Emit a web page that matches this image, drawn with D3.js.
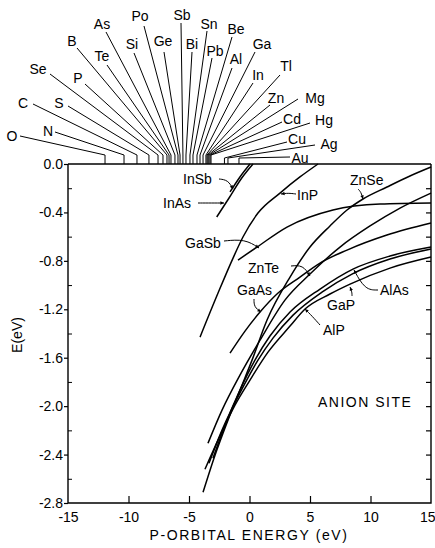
<!DOCTYPE html>
<html><head><meta charset="utf-8">
<script src="https://cdn.jsdelivr.net/npm/d3@7"></script>
<style>
body{margin:0;background:#fff;}
text{font-family:"Liberation Sans","DejaVu Sans",Arial,sans-serif;fill:#000;}
</style></head>
<body><svg id="c" width="435" height="548"></svg>
<script>
// ---------- data ----------
const xTicks = [-15, -10, -5, 0, 5, 10, 15];
const yTicks = [0.0, -0.4, -0.8, -1.2, -1.6, -2.0, -2.4, -2.8];
const yMinorTicks = [-0.2, -0.6, -1.0, -1.4, -1.8, -2.2, -2.6];

const elements = ["O","N","C","S","Se","P","B","Te","As","Si","Po","Ge","Sb","Bi","Sn","Pb","Be","Al","Ga","In","Tl","Zn","Mg","Cd","Hg","Cu","Ag","Au"];
const elementEnergy = [-11.94,-10.37,-9.30,-8.31,-7.56,-7.15,-6.82,-6.65,-6.49,-6.16,-5.91,-5.74,-5.50,-5.25,-4.92,-4.67,-4.34,-4.09,-3.84,-3.60,-3.51,-3.43,-3.35,-3.26,-3.18,-2.07,-1.78,-0.87];

const hosts = ["InSb","InAs","InP","GaSb","GaAs","ZnTe","ZnSe","AlAs","GaP","AlP"];
const InSb = [[-1.61,-0.231],[-0.79,-0.107],[0.04,0]];
const InAs = [[-2.71,-0.438],[-1.69,-0.281],[-0.64,-0.116],[0.29,0]];
const InP  = [[-4.09,-1.43],[-2.60,-1.066],[-1.36,-0.777],[-0.54,-0.603],[0.70,-0.405],[2.52,-0.240],[4.17,-0.107],[5.66,0]];
const GaSb = [[-0.95,-0.793],[0.62,-0.686],[3.10,-0.521],[6.90,-0.38],[10.79,-0.331],[15,-0.322]];
const GaAs = [[-1.61,-1.562],[-0.37,-1.380],[0.87,-1.223],[2.36,-1.066],[4.17,-0.934],[5.83,-0.818],[8.06,-0.711],[11.36,-0.587],[15,-0.488]];
const ZnTe = [[-3.43,-2.306],[-2.27,-2.033],[-0.79,-1.744],[0.87,-1.455],[2.93,-1.124],[5.0,-0.909],[7.48,-0.686],[9.96,-0.512],[12.44,-0.364],[15,-0.240]];
const ZnSe = [[-3.84,-2.711],[-2.85,-2.405],[-1.78,-2.116],[-0.79,-1.868],[0.21,-1.620],[1.45,-1.289],[3.35,-0.934],[5.0,-0.686],[6.65,-0.512],[8.06,-0.380],[9.38,-0.289],[11.36,-0.190],[13.26,-0.099],[15,-0.025]];
const AlAs = [[-3.02,-2.430],[-2.02,-2.157],[-0.79,-1.868],[0.45,-1.620],[1.69,-1.421],[3.35,-1.223],[5.83,-1.033],[8.55,-0.868],[11.61,-0.760],[15,-0.686]];
const GaP  = [[-3.35,-2.471],[-2.27,-2.198],[-0.54,-1.843],[0.70,-1.620],[1.94,-1.438],[3.60,-1.248],[5.99,-1.058],[8.47,-0.909],[11.61,-0.785],[15,-0.702]];
const AlP  = [[-3.68,-2.521],[-2.60,-2.281],[-1.20,-1.992],[0.04,-1.785],[1.53,-1.554],[3.35,-1.339],[4.59,-1.198],[6.65,-1.074],[8.31,-0.992],[11.61,-0.860],[15,-0.769]];
const hostData = [InSb,InAs,InP,GaSb,GaAs,ZnTe,ZnSe,AlAs,GaP,AlP];

// ---------- layout (pixel annotations) ----------
const elemLabelPos = {O:[12,136],N:[48,131],C:[23,103],S:[59,103],Se:[38,69],P:[78,78],B:[72,41],Te:[102,56],As:[102,24],Si:[132,44],Po:[140,16],Ge:[163,41],Sb:[182,15],Bi:[192,44],Sn:[209,24],Pb:[215,51],Be:[236,29],Al:[236,59],Ga:[262,44],In:[258,75],Tl:[286,66],Zn:[276,98],Mg:[315,98],Cd:[292,119],Hg:[324,120],Cu:[297,139],Ag:[329,144],Au:[300,158]};
const elemLineStart = {O:[20,136],N:[55,132],C:[33,104],S:[68,106],Se:[50,74],P:[85,84],B:[77,48],Te:[107,65],As:[106,32],Si:[134,53],Po:[144,26],Ge:[164,52],Sb:[181,23],Bi:[192,52],Sn:[207,31],Pb:[212,58],Be:[232,37],Al:[232,68],Ga:[255,52],In:[253,83],Tl:[280,75],Zn:[270,105],Mg:[298,99],Cd:[282,122],Hg:[310,123],Cu:[287,142],Ag:[315,145],Au:[290,157]};
const hostLabels = {
  InSb:{t:[183,179],path:[[219,179],[228,180],[233,189]]},
  InAs:{t:[163,203],path:[[198,203],[212,203],[224,203]]},
  GaSb:{t:[185,243],path:[[224,241],[245,239],[259,248]]},
  InP:{t:[297,195],path:[[296,194],[288,193],[281,194]]},
  ZnSe:{t:[350,180],path:[[358,189],[361,192],[363,199]]},
  ZnTe:{t:[248,268],path:[[291,266],[303,265],[310,276]]},
  GaAs:{t:[237,290],path:[[254,299],[254,307],[261,312]]},
  AlAs:{t:[380,290],path:[[378,290],[365,290],[354,270]]},
  GaP:{t:[327,305],path:[[352,296],[352,292],[350,287]]},
  AlP:{t:[323,330],path:[[320,325],[312,316],[305,309]]}
};

// ---------- drawing ----------
const svg = d3.select("#c");
const x = d3.scaleLinear().domain([-15,15]).range([68,431]);
const y = d3.scaleLinear().domain([-2.8,0]).range([503,164]);

const g = svg.append("g").attr("stroke","#000").attr("fill","none");

g.append("path").attr("d",`M${x(-15)},${y(0)}V${y(-2.8)}H${x(15)}V${y(0)}`).attr("stroke-width",1.4);
g.append("line").attr("x1",x(-15)).attr("x2",x(15)).attr("y1",y(0)).attr("y2",y(0)).attr("stroke-width",1.4);

// x axis
const xa = svg.append("g").attr("transform",`translate(0,${y(-2.8)})`)
  .call(d3.axisBottom(x).tickValues(xTicks).tickSize(-7).tickSizeOuter(0).tickFormat(d=>String(d)));
xa.select(".domain").remove();
xa.selectAll("line").attr("stroke-width",1.2);
xa.selectAll("text").attr("dy","0").attr("y",19).style("font-size","14px");
xa.selectAll(".tick").filter(d=>d===-15||d===15).select("line").remove();
xa.selectAll(".tick").filter(d=>d===15).select("text").attr("text-anchor","end").attr("x",4);

// y axis
const ya = svg.append("g").attr("transform",`translate(${x(-15)},0)`)
  .call(d3.axisLeft(y).tickValues(yTicks).tickSize(4).tickSizeOuter(0).tickFormat(d=>d3.format(".1f")(d).replace("−","-")));
ya.select(".domain").remove();
ya.selectAll("line").attr("stroke-width",1.2);
ya.selectAll("text").attr("x",-5).style("font-size","14px");
const ym = svg.append("g").attr("transform",`translate(${x(-15)},0)`)
  .call(d3.axisRight(y).tickValues(yMinorTicks).tickSize(4).tickFormat(""));
ym.select(".domain").remove();
const yr = svg.append("g").attr("transform",`translate(${x(15)},0)`)
  .call(d3.axisLeft(y).tickValues(yTicks.concat(yMinorTicks).filter(d=>d!==0&&d!==-2.8)).tickSize(5).tickFormat(""));
yr.select(".domain").remove();
yr.selectAll("line").attr("stroke-width",1.2);

// axis titles
svg.append("text").attr("x",249).attr("y",540).attr("text-anchor","middle")
  .style("font-size","14px").style("letter-spacing","1.6px").text("P-ORBITAL ENERGY (eV)");
svg.append("text").attr("transform","translate(22,335) rotate(-90)").attr("text-anchor","middle")
  .style("font-size","14px").text("E(eV)");
svg.append("text").attr("x",318).attr("y",407).style("font-size","14px").style("letter-spacing","1.5px").text("ANION SITE");

// element ticks + leader lines
const eg = svg.append("g");
elements.forEach((el,i)=>{
  const xe = x(elementEnergy[i]);
  const s = elemLineStart[el];
  const bend = i>=25 ? y(0)-6 : y(0)-9;
  eg.append("path").attr("d",`M${s[0]},${s[1]}L${xe},${bend}V${y(0)}`)
    .attr("stroke","#000").attr("stroke-width",1).attr("fill","none");
  const p = elemLabelPos[el];
  eg.append("text").attr("x",p[0]).attr("y",p[1]).attr("text-anchor","middle")
    .attr("dominant-baseline","central").style("font-size","14px").text(el);
});

// host curves
const line = d3.line().x(d=>x(d[0])).y(d=>y(d[1])).curve(d3.curveMonotoneX);
hosts.forEach((h,i)=>{
  g.append("path").attr("d",line(hostData[i])).attr("stroke-width",1.5);
});

// host labels with leaders
const lg = d3.line().curve(d3.curveBasis);
hosts.forEach(h=>{
  const L = hostLabels[h];
  svg.append("text").attr("x",L.t[0]).attr("y",L.t[1]).attr("dominant-baseline","central").style("font-size","14px").text(h);
  svg.append("path").attr("d",lg(L.path)).attr("stroke","#000").attr("fill","none").attr("stroke-width",1);
  const p1=L.path[L.path.length-2], p2=L.path[L.path.length-1];
  const ang=Math.atan2(p2[1]-p1[1],p2[0]-p1[0]);
  const a1=ang+2.7, a2=ang-2.7, len=4;
  svg.append("path").attr("d",`M${p2[0]},${p2[1]}L${p2[0]+len*Math.cos(a1)},${p2[1]+len*Math.sin(a1)}L${p2[0]+len*Math.cos(a2)},${p2[1]+len*Math.sin(a2)}Z`).attr("fill","#000");
});
</script></body></html>
